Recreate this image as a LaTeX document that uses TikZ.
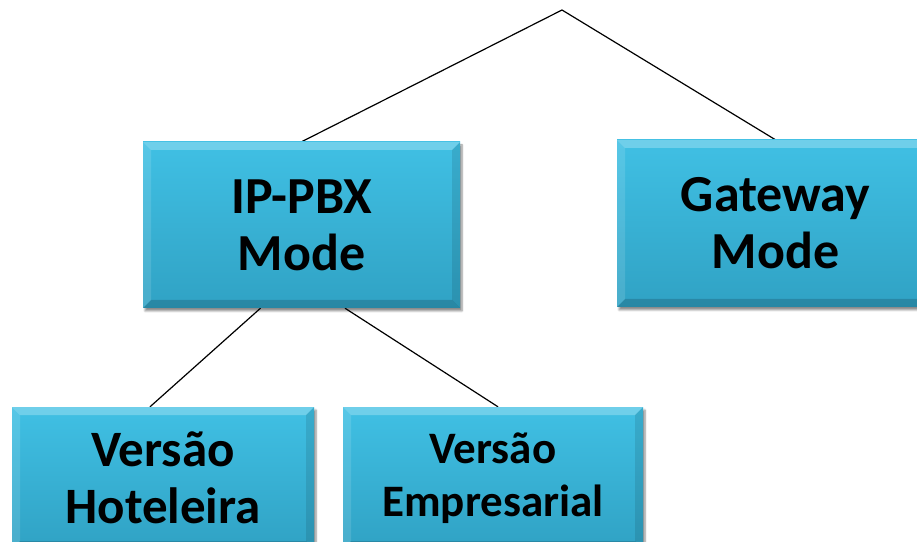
\documentclass[tikz,border=0pt]{standalone}
\usepackage{fontspec}
\setmainfont{Carlito}
\usetikzlibrary{shadows.blur,backgrounds}
\definecolor{boxtop}{RGB}{64,192,228}
\definecolor{boxbot}{RGB}{48,162,196}
\tikzset{
  box/.style={rectangle, inner sep=0pt, align=center, text=black,
    top color=boxtop, bottom color=boxbot, draw=none,
    blur shadow={shadow xshift=2pt, shadow yshift=-3pt, shadow blur steps=6, shadow opacity=45},
    path picture={
      \fill[white,opacity=.25] (path picture bounding box.north west) -- (path picture bounding box.north east)
        -- ([shift={(-8pt,-8pt)}]path picture bounding box.north east) -- ([shift={(8pt,-8pt)}]path picture bounding box.north west) -- cycle;
      \fill[white,opacity=.12] (path picture bounding box.north west) -- ([shift={(8pt,-8pt)}]path picture bounding box.north west)
        -- ([shift={(8pt,8pt)}]path picture bounding box.south west) -- (path picture bounding box.south west) -- cycle;
      \fill[black,opacity=.16] (path picture bounding box.south west) -- (path picture bounding box.south east)
        -- ([shift={(-8pt,8pt)}]path picture bounding box.south east) -- ([shift={(8pt,8pt)}]path picture bounding box.south west) -- cycle;
      \fill[black,opacity=.10] (path picture bounding box.north east) -- ([shift={(-8pt,-8pt)}]path picture bounding box.north east)
        -- ([shift={(-8pt,8pt)}]path picture bounding box.south east) -- (path picture bounding box.south east) -- cycle;
    }},
  big/.style={font=\bfseries\fontsize{52}{57}\selectfont},
  mid/.style={font=\bfseries\fontsize{51}{57}\selectfont},
  small/.style={font=\bfseries\fontsize{45}{53}\selectfont},
  link/.style={draw=black, line width=1.2pt}
}
\begin{document}
\begin{tikzpicture}[x=1pt,y=1pt]
\useasboundingbox (0,0) rectangle (917,541);
\node[box, big, minimum width=317pt, minimum height=166pt] (ippbx) at (301.5,316) {\raisebox{-4pt}{IP-PBX}\\\raisebox{-4pt}{Mode}};
\node[box, big, minimum width=317pt, minimum height=167pt] (gateway) at (775.5,317.5) {Gateway\\Mode};
\node[box, mid, minimum width=302pt, minimum height=142pt] (hotel) at (163,63) {Versão\\Hoteleira};
\node[box, small, minimum width=300pt, minimum height=142pt] (empresa) at (493,63) {Versão\\Empresarial};
\coordinate (apex) at (562,531);
\begin{scope}[on background layer]
\draw[link] (apex) -- (ippbx.north);
\draw[link] (apex) -- (gateway.north);
\draw[link] ([xshift=-41pt]ippbx.south) -- ([xshift=-13pt]hotel.north);
\draw[link] ([xshift=43.5pt]ippbx.south) -- ([xshift=5pt]empresa.north);
\end{scope}
\end{tikzpicture}
\end{document}
